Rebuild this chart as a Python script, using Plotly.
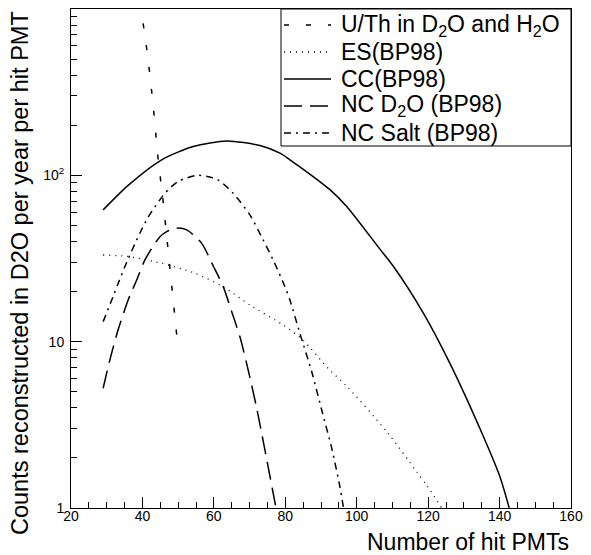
import plotly.graph_objects as go

# ---------------- data ----------------
uth_x = [40.2, 41.5, 43.0, 44.4, 45.8, 47.1, 48.2, 49.6]
uth_y = [820, 520, 265, 125, 70, 38, 21, 11]

es_x = [29.0, 36.0, 45.4, 54.7, 62.6, 70.1, 79.4, 85.0, 92.0, 97.2, 108.4, 116.8, 119.6, 123.8]
es_y = [33.2, 32.5, 29.6, 25.8, 21.4, 16.6, 12.6, 10.2, 6.9, 5.4, 2.88, 1.65, 1.37, 1.0]

cc_x = [29.0, 36.0, 45.4, 54.2, 63.6, 72.9, 78.5, 81.3, 87.9, 92.5, 97.2, 106.5, 110.3, 118.7, 126.1, 135.5, 140.1, 142.7]
cc_y = [62, 87, 124, 149, 161, 151, 136, 124, 98, 82, 65, 36, 28.3, 14.8, 7.4, 2.68, 1.54, 1.0]

ncd_x = [29.0, 30.9, 33.2, 36.0, 38.4, 40.7, 44.9, 46.8, 49.6, 52.4, 56.6, 59.9, 62.6, 64.5, 67.3, 69.6, 72.0, 77.4]
ncd_y = [5.25, 7.8, 11.8, 17.8, 23.5, 31, 42.8, 45.9, 48.1, 47, 39, 28.3, 21.5, 16.3, 10.7, 6.76, 3.98, 1.0]

ncs_x = [29.0, 31.8, 33.2, 35.6, 39.3, 41.6, 46.3, 50.0, 55.6, 61.0, 65.4, 70.1, 73.8, 76.6, 79.9, 81.3, 84.1, 87.4, 90.2, 93.0, 95.3, 96.3]
ncs_y = [13.2, 18.7, 22.4, 30, 45, 56, 78, 92, 100, 94.4, 78, 57.8, 40.9, 31, 21.4, 17.8, 11.2, 6.6, 3.88, 2.29, 1.34, 1.0]

x_ticks = [20, 40, 60, 80, 100, 120, 140, 160]
y_ticks = [1, 10, 100]
y_ticktext = ["1", "10", "10<sup>2</sup>"]

names = ["U/Th in D<sub>2</sub>O and H<sub>2</sub>O", "ES(BP98)", "CC(BP98)",
         "NC D<sub>2</sub>O (BP98)", "NC Salt (BP98)"]

FONT = "Liberation Sans, Arial, Helvetica, sans-serif"

# page has an 8px body margin; compensate so the frame sits at x 71-571, y 9-508
W, H = 583, 547
ML, MR, MT, MB = 63, 20, 1, 47
PW = W - ML - MR  # 500
PH = H - MT - MB  # 499
X0_PAGE, Y0_PAGE = 71, 508  # page px of plot-area left / bottom


def px(xp):
    return (xp - X0_PAGE) / PW


def py(yp):
    return (Y0_PAGE - yp) / PH


styles = [
    ("5px,17px", "linear", 1.5),
    ("1px,5px", "spline", 1.3),
    ("solid", "spline", 1.5),
    ("18px,8px", "spline", 1.5),
    ("7px,5px,2px,5px", "spline", 1.5),
]
data = [(uth_x, uth_y), (es_x, es_y), (cc_x, cc_y), (ncd_x, ncd_y), (ncs_x, ncs_y)]

fig = go.Figure()
for (xs, ys), (dash, shape, w), nm in zip(data, styles, names):
    fig.add_trace(go.Scatter(
        x=xs, y=ys, mode="lines", name=nm, showlegend=False,
        line=dict(color="black", width=w, dash=dash, shape=shape, smoothing=0.7),
    ))

# legend box drawn as in the reference (row centres in page px)
row_centers = [25, 52, 79, 106, 133]
shapes = [dict(type="rect", xref="paper", yref="paper",
               x0=px(281), x1=1, y0=py(146), y1=1,
               line=dict(color="black", width=1), fillcolor="rgba(0,0,0,0)", layer="above")]
annotations = []
for (dash, shape, w), nm, yc in zip(styles, names, row_centers):
    shapes.append(dict(type="line", xref="paper", yref="paper",
                       x0=px(284), x1=px(331), y0=py(yc), y1=py(yc),
                       line=dict(color="black", width=w, dash=dash), layer="above"))
    annotations.append(dict(text=nm, xref="paper", yref="paper",
                            x=px(339), y=py(yc), xanchor="left", yanchor="middle",
                            showarrow=False, font=dict(size=23, family=FONT, color="black")))

annotations += [
    dict(text="Number of hit PMTs", xref="paper", yref="paper",
         x=1, y=py(542), xanchor="right", yanchor="middle", showarrow=False,
         font=dict(size=23, family=FONT, color="black")),
    dict(text="Counts reconstructed in D2O per year per hit PMT", xref="paper", yref="paper",
         x=px(20), y=1, xanchor="center", yanchor="top", textangle=-90, showarrow=False,
         font=dict(size=23.5, family=FONT, color="black")),
]

fig.update_layout(
    width=W, height=H,
    margin=dict(l=ML, r=MR, t=MT, b=MB),
    paper_bgcolor="white", plot_bgcolor="white",
    font=dict(family=FONT, color="black"),
    showlegend=False,
    xaxis=dict(
        type="linear", range=[20, 160],
        tickvals=x_ticks, ticks="inside", ticklen=11, tickwidth=1, tickcolor="black",
        tickfont=dict(size=14, family=FONT, color="black"),
        ticklabelstandoff=-5,
        showline=True, linecolor="black", linewidth=1, mirror=True,
        showgrid=False, zeroline=False,
        minor=dict(dtick=5, ticks="inside", ticklen=6, tickcolor="black", showgrid=False),
    ),
    yaxis=dict(
        type="log", range=[0, 3],
        tickvals=y_ticks, ticktext=y_ticktext,
        ticks="inside", ticklen=11, tickwidth=1, tickcolor="black",
        tickfont=dict(size=14, family=FONT, color="black"),
        ticklabelstandoff=3,
        showline=True, linecolor="black", linewidth=1, mirror=True,
        showgrid=False, zeroline=False,
        minor=dict(dtick="D1", ticks="inside", ticklen=6, tickcolor="black", showgrid=False),
    ),
    shapes=shapes,
    annotations=annotations,
)

fig.write_html("out.html")
